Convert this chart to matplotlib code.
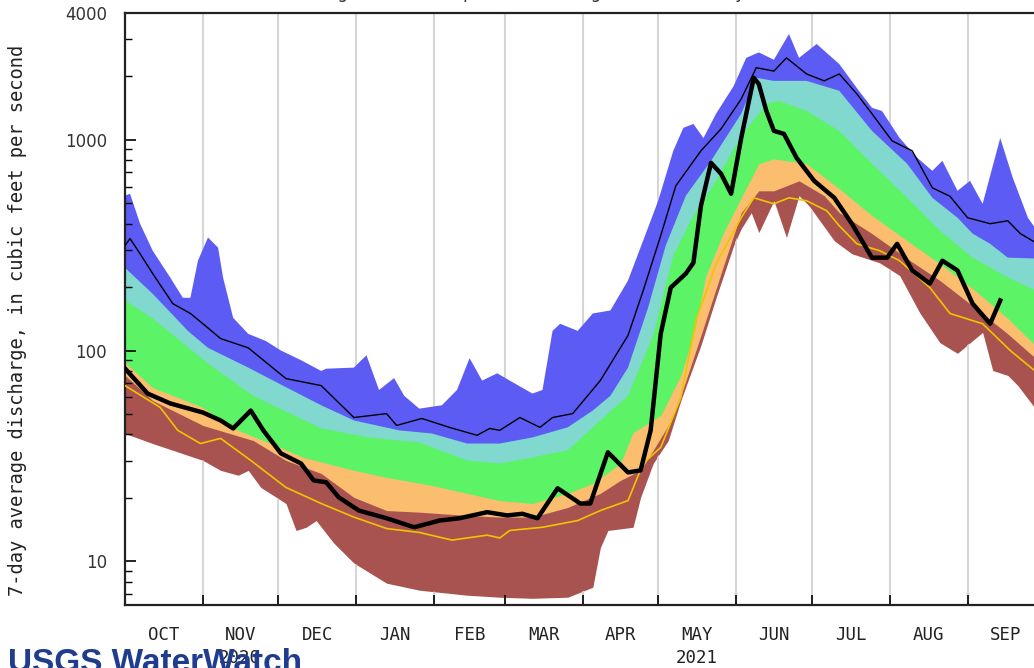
import numpy as np
import matplotlib
matplotlib.use('Agg')
import matplotlib.pyplot as plt
import matplotlib.transforms as mtransforms
from matplotlib.ticker import FixedLocator, FixedFormatter, NullFormatter, NullLocator, LogLocator

# days counted from 1 Oct 2020, discharge in cubic feet per second
max_days = [0, 2, 6, 11, 18, 23, 26, 29, 33, 37, 39, 43, 49, 56, 62, 70, 78, 80, 91, 96,
            101, 107, 111, 117, 126, 132, 137, 142, 148, 153, 162, 166, 170, 173, 180, 186, 193, 200, 206, 212,
            218, 222, 226, 230, 235, 242, 247, 252, 258, 264, 268, 275, 284, 291, 297, 301, 308, 315, 321, 325,
            331, 336, 341, 348, 353, 359, 364]
max_cfs = [543, 555, 400, 298, 222, 178, 178, 267, 344, 308, 222, 143, 120, 111, 100, 90, 80, 82, 83, 95,
           65, 74, 61, 53, 55, 65, 92, 72, 78, 72, 62.5, 65, 124, 134, 124, 150, 155, 215, 332, 514,
           887, 1140, 1190, 1020, 1330, 1800, 2450, 2600, 2400, 3180, 2450, 2850, 2290, 1760, 1420, 1370, 1020, 822, 713, 795,
           573, 639, 497, 1020, 660, 427, 351]

p90_days = [0, 11, 25, 33, 49, 64, 78, 91, 109, 122, 136, 149, 162, 176, 186, 193, 200, 208, 215, 223,
            233, 245, 251, 258, 271, 284, 297, 311, 321, 331, 337, 344, 351, 364]
p90_cfs = [247, 186, 124, 103, 83, 67, 55, 46.6, 41.8, 40.4, 36.2, 36.2, 38.7, 43.2, 51.9, 61, 83, 160, 315, 543,
           795, 1330, 1970, 1905, 1905, 1710, 1103, 770, 531, 427, 359, 321, 276, 273]

p75_days = [0, 11, 22, 34, 51, 78, 97, 117, 136, 149, 162, 176, 189, 200, 210, 218, 226, 235, 245, 255,
            260, 271, 284, 297, 311, 324, 337, 351, 364]
p75_cfs = [173, 142, 111, 85, 61, 42.7, 38.7, 36.6, 30.1, 29.1, 31.1, 33.6, 46.6, 61, 118, 282, 437, 639, 1045, 1480,
           1530, 1372, 1103, 770, 531, 371, 276, 222, 188]

p25_days = [0, 11, 31, 42, 58, 71, 91, 104, 122, 136, 149, 162, 176, 186, 197, 202, 213, 221, 226, 231,
            238, 245, 252, 258, 271, 284, 297, 311, 324, 337, 351, 364]
p25_cfs = [87.7, 66.7, 53.7, 43.2, 36.2, 31.1, 27.0, 25.0, 22.9, 21.0, 19.4, 18.8, 21.0, 23.4, 29.1, 40.8, 49.2, 76.2, 118, 227,
           363, 531, 770, 813, 770, 586, 437, 332, 258, 197, 142, 100]

p10_days = [0, 11, 31, 51, 64, 78, 91, 104, 117, 136, 149, 162, 176, 189, 197, 205, 210, 216, 221, 229,
            238, 245, 252, 258, 268, 278, 284, 297, 311, 324, 337, 351, 364]
p10_cfs = [76.2, 57.9, 44.1, 37.4, 30.1, 26.1, 20.1, 17.4, 17.1, 16.5, 16.2, 16.2, 18.0, 21.0, 24.2, 27.0, 33.6, 44.1, 61, 118,
           253, 451, 573, 573, 639, 543, 451, 359, 273, 215, 163, 120, 87.7]

min_days = [0, 11, 31, 38, 45, 49, 54, 64, 68, 72, 76, 83, 91, 104, 117, 136, 149, 162, 176, 186,
            189, 192, 202, 205, 210, 216, 221, 229, 235, 242, 245, 249, 252, 258, 263, 268, 272, 282, 289, 300,
            308, 316, 324, 331, 338, 341, 345, 351, 355, 364]
min_cfs = [40.4, 36.2, 30.1, 27.0, 25.6, 27.0, 22.4, 18.8, 14.0, 14.5, 15.6, 12.2, 9.8, 7.87, 7.29, 6.90, 6.75, 6.67, 6.75, 7.53,
           11.6, 14.0, 14.5, 20.1, 29.1, 37.4, 57.9, 106, 178, 315, 379, 451, 363, 514, 344, 543, 486, 332, 288, 261,
           227, 151, 109, 97, 114, 122, 80.4, 76.2, 68.2, 49.2]

mean_days = [0, 2, 6, 11, 19, 26, 33, 38, 49, 64, 78, 91, 104, 108, 118, 129, 140, 145, 149, 157,
             165, 170, 178, 189, 200, 206, 213, 219, 229, 237, 245, 251, 258, 263, 271, 278, 284, 291, 297, 305,
             313, 321, 328, 335, 344, 351, 356, 364]
mean_cfs = [315, 340, 288, 232, 167, 150, 128, 114, 103, 73.6, 68.2, 48.1, 50.2, 44.1, 47.6, 43.2, 39.6, 42.7, 41.8, 48.1,
            43.2, 48.1, 50.2, 72.1, 118, 192, 351, 605, 887, 1128, 1563, 2200, 2120, 2450, 2055, 1905, 2055, 1652, 1330, 989,
            887, 592, 540, 427, 400, 413, 359, 315]

yel_days = [0, 14, 21, 30, 38, 50, 64, 78, 91, 104, 117, 130, 144, 149, 153, 166, 180, 189, 200, 206,
            213, 221, 227, 235, 245, 250, 258, 264, 271, 279, 284, 291, 300, 308, 320, 328, 341, 352, 364]
yel_cfs = [68.2, 53.7, 41.8, 36.2, 38.3, 30.1, 22.4, 18.8, 16.2, 14.3, 13.7, 12.6, 13.3, 12.9, 14.0, 14.5, 15.6, 17.4, 19.4, 29.1,
           34.7, 59.8, 139, 258, 427, 531, 497, 531, 514, 461, 391, 321, 298, 267, 199, 150, 134, 100, 76.2]

cur_days = [0, 9, 18, 31, 38, 43, 50, 55, 62, 70, 75, 80, 85, 93, 104, 115, 125, 133, 144, 152,
            158, 164, 172, 181, 185, 192, 200, 205, 209, 213, 217, 223, 226, 229, 233, 237, 241, 245, 250, 252,
            255, 258, 262, 267, 274, 282, 289, 297, 303, 307, 313, 320, 325, 331, 337, 344, 348]
cur_cfs = [82.2, 62.5, 56.1, 50.8, 46.6, 42.7, 51.9, 41.8, 32.5, 29.1, 24.2, 23.7, 20.1, 17.4, 16.0, 14.5, 15.6, 16.0, 17.1, 16.5,
           16.8, 16.0, 22.2, 18.8, 18.8, 32.9, 26.4, 27.0, 41.8, 120, 199, 232, 261, 486, 778, 690, 555, 1020, 1970, 1840,
           1372, 1103, 1068, 822, 639, 531, 400, 276, 276, 321, 240, 208, 267, 240, 167, 134, 173]

months = ['OCT', 'NOV', 'DEC', 'JAN', 'FEB', 'MAR', 'APR', 'MAY', 'JUN', 'JUL', 'AUG', 'SEP']
month_starts = [0, 31, 61, 92, 123, 151, 182, 212, 243, 273, 304, 335, 365]
ytick_vals = [10, 100, 1000, 4000]

W, H = 1034, 668
fig = plt.figure(figsize=(W / 100, H / 100), dpi=100)
# plot area runs past the right edge of the picture, as in the cropped original
ax = fig.add_axes([125 / W, 63 / H, 918 / W, 592 / H])
ax.set_yscale('log')
ax.set_xlim(0, 365)
ax.set_ylim(6.2, 4000)

floor = 1.0
bands = [(max_days, max_cfs, '#5c5cf5'),
         (p90_days, p90_cfs, '#80d8cf'),
         (p75_days, p75_cfs, '#5cf466'),
         (p25_days, p25_cfs, '#fbbd6e'),
         (p10_days, p10_cfs, '#a85350')]
for i, (d, v, c) in enumerate(bands):
    ax.fill_between(d, v, floor, color=c, lw=0, zorder=1 + i * 0.01)
white = ax.fill_between(min_days, min_cfs, floor, color='white', lw=0, zorder=1.1)

# month gridlines: visible in white areas only
for m in month_starts[1:-1]:
    ax.axvline(m, color='#d6d6d6', lw=1.5, zorder=0.5)
    gl = ax.axvline(m, color='#d6d6d6', lw=1.5, zorder=1.2)
    gl.set_clip_path(white.get_paths()[0], white.get_transform())

ax.plot(mean_days, mean_cfs, color='black', lw=1.0, zorder=3)
ax.plot(yel_days, yel_cfs, color='#f2c400', lw=1.2, zorder=3)
ax.plot(cur_days, cur_cfs, color='black', lw=3.2, zorder=4, solid_joinstyle='round')

ax.yaxis.set_major_locator(FixedLocator(ytick_vals))
ax.yaxis.set_major_formatter(FixedFormatter([str(v) for v in ytick_vals]))
ax.yaxis.set_minor_locator(LogLocator(base=10, subs=np.arange(2, 10)))
ax.yaxis.set_minor_formatter(NullFormatter())
ax.tick_params(axis='y', which='major', direction='in', length=8, width=1.2,
               labelsize=12, pad=13, labelcolor='#333333')
ax.tick_params(axis='y', which='minor', direction='in', length=5, width=1.0)
ax.xaxis.set_major_locator(FixedLocator(month_starts))
ax.xaxis.set_major_formatter(NullFormatter())
ax.xaxis.set_minor_locator(NullLocator())
ax.tick_params(axis='x', which='major', direction='in', length=7, width=1.2)
for s in ['top', 'left', 'bottom']:
    ax.spines[s].set_linewidth(1.6)
    ax.spines[s].set_color('#222222')
ax.spines['right'].set_visible(False)

trans = mtransforms.blended_transform_factory(ax.transData, fig.transFigure)
for i, name in enumerate(months):
    mid = (month_starts[i] + month_starts[i + 1]) / 2
    ax.text(mid, (H - 635) / H, name, transform=trans, ha='center', va='center',
            family='DejaVu Sans Mono', fontsize=12.5, color='#222222', clip_on=False)

fig.text(18 / W, 1 - 320 / H, '7-day average discharge, in cubic feet per second',
         rotation=90, ha='center', va='center', family='DejaVu Sans Mono', fontsize=13.5, color='#222222')

# title line is cropped at the top in the original: only its lower edge shows
fig.text(532 / W, 1 + 2 / H, '(Drainage area: 164 square miles, length of record: 67 years)',
         ha='center', va='baseline', family='DejaVu Sans', fontsize=12, color='#333333')

fig.text(8 / W, -4 / H, 'USGS WaterWatch', ha='left', va='baseline', family='Liberation Sans',
         weight='bold', fontsize=24, color='#1f3c8f')

ax.text(45.5, (H - 658) / H, '2020', transform=trans, ha='center', va='center',
        family='DejaVu Sans Mono', fontsize=12.5, color='#222222', clip_on=False)
ax.text(227.5, (H - 658) / H, '2021', transform=trans, ha='center', va='center',
        family='DejaVu Sans Mono', fontsize=12.5, color='#222222', clip_on=False)

fig.savefig('out.png', dpi=100)
